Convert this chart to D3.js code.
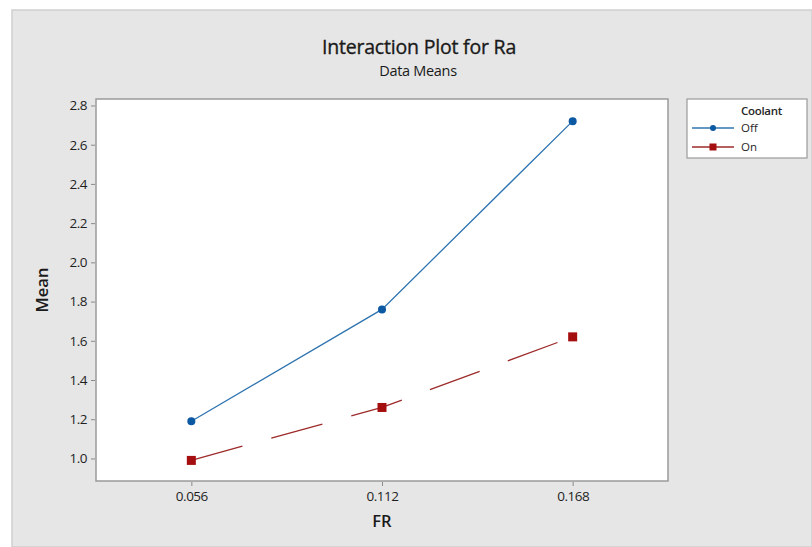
<!DOCTYPE html>
<html>
<head>
<meta charset="utf-8">
<script src="https://cdn.jsdelivr.net/npm/d3@7"></script>
<style>
  html, body { margin: 0; padding: 0; background: #ffffff; }
  svg { display: block; }
  text { font-family: "Open Sans", "Noto Sans", sans-serif; }
</style>
</head>
<body>
<svg id="chart" width="812" height="547"></svg>
<script>
// Interaction plot: mean Ra by feed rate, split by coolant
const feedRates = ["0.056", "0.112", "0.168"];
const coolantLevels = ["Off", "On"];
const meanOff = [1.19, 1.76, 2.72];
const meanOn = [0.99, 1.26, 1.62];
const yTicks = [1.0, 1.2, 1.4, 1.6, 1.8, 2.0, 2.2, 2.4, 2.6, 2.8];

const series = [
  { name: coolantLevels[0], values: meanOff, line: "#2f74b0", mark: "#0b59a3", dash: null, shape: "circle" },
  { name: coolantLevels[1], values: meanOn, line: "#9e2a2a", mark: "#a50e0e", dash: "53,30", shape: "square" }
];

const svg = d3.select("#chart");
const W = 812, H = 547;

// figure panel
svg.append("rect").attr("x", 12).attr("y", 10).attr("width", W - 12).attr("height", H - 10)
  .attr("fill", "#e6e6e6").attr("stroke", "#cfcfcf").attr("stroke-width", 1.5);

const plot = { left: 96, top: 99, right: 668, bottom: 481 };

const x = d3.scalePoint().domain(feedRates)
  .range([plot.left, plot.right]).padding(0.5);
const y = d3.scaleLinear().domain([0.885, 2.833]).range([plot.bottom, plot.top]);

// plot area
svg.append("rect").attr("x", plot.left).attr("y", plot.top)
  .attr("width", plot.right - plot.left).attr("height", plot.bottom - plot.top)
  .attr("fill", "#ffffff").attr("stroke", "#9a9a9a").attr("stroke-width", 1.5);

// axes
const yAxis = svg.append("g").attr("transform", `translate(${plot.left - 1},0)`)
  .call(d3.axisLeft(y).tickValues(yTicks).tickFormat(d3.format(".1f")).tickSize(4).tickPadding(4));
const xAxis = svg.append("g").attr("transform", `translate(0,${plot.bottom + 1})`)
  .call(d3.axisBottom(x).tickSize(4).tickPadding(5));
[yAxis, xAxis].forEach(g => {
  g.select(".domain").remove();
  g.selectAll(".tick line").attr("stroke", "#8a8a8a");
  g.selectAll(".tick text").attr("fill", "#1f1f1f").style("font-size", "13.5px")
    .style("font-family", "\"Open Sans\", sans-serif").style("letter-spacing", "-0.5px");
});

// titles
svg.append("text").attr("x", 419).attr("y", 54).attr("text-anchor", "middle")
  .style("font-size", "19.5px").style("font-weight", 400).attr("fill", "#1a1a1a")
  .attr("stroke", "#1a1a1a").attr("stroke-width", 0.35)
  .style("letter-spacing", "-0.2px").text("Interaction Plot for Ra");
svg.append("text").attr("x", 418).attr("y", 76).attr("text-anchor", "middle")
  .style("font-size", "14.5px").attr("fill", "#1a1a1a").style("letter-spacing", "-0.3px").text("Data Means");
svg.append("text").attr("transform", `translate(48,${(plot.top + plot.bottom) / 2}) rotate(-90)`)
  .attr("text-anchor", "middle").style("font-size", "16.5px").style("font-weight", 600)
  .attr("fill", "#1a1a1a").text("Mean");
svg.append("text").attr("x", x("0.112")).attr("y", 527).attr("text-anchor", "middle")
  .style("font-size", "16.5px").style("font-weight", 600).attr("fill", "#1a1a1a").text("FR");

// series lines and markers
const line = d3.line().x((d, i) => x(feedRates[i])).y(d => y(d));
function drawMarker(g, s, cx, cy, size) {
  if (s.shape === "circle") {
    g.append("circle").attr("cx", cx).attr("cy", cy).attr("r", size / 2).attr("fill", s.mark);
  } else {
    g.append("rect").attr("x", cx - size / 2).attr("y", cy - size / 2)
      .attr("width", size).attr("height", size).attr("fill", s.mark);
  }
}
series.forEach(s => {
  svg.append("path").datum(s.values).attr("d", line).attr("fill", "none")
    .attr("stroke", s.line).attr("stroke-width", 1.3)
    .attr("stroke-dasharray", s.dash);
  const g = svg.append("g");
  s.values.forEach((v, i) => drawMarker(g, s, x(feedRates[i]), y(v), s.shape === "circle" ? 8 : 9));
});

// legend
const lg = svg.append("g");
lg.append("rect").attr("x", 687).attr("y", 99).attr("width", 120).attr("height", 59)
  .attr("fill", "#ffffff").attr("stroke", "#9a9a9a").attr("stroke-width", 1.2);
lg.append("text").attr("x", 741).attr("y", 115).style("font-size", "11.5px").style("font-weight", 600)
  .attr("fill", "#262626").style("letter-spacing", "-0.3px").text("Coolant");
series.forEach((s, i) => {
  const yy = 128 + i * 19;
  lg.append("line").attr("x1", 692).attr("x2", 734).attr("y1", yy).attr("y2", yy)
    .attr("stroke", s.line).attr("stroke-width", 1.3);
  drawMarker(lg, s, 713, yy, s.shape === "circle" ? 6 : 7);
  lg.append("text").attr("x", 741).attr("y", yy + 4).style("font-size", "11.5px")
    .attr("fill", "#262626").text(s.name);
});
</script>
</body>
</html>
